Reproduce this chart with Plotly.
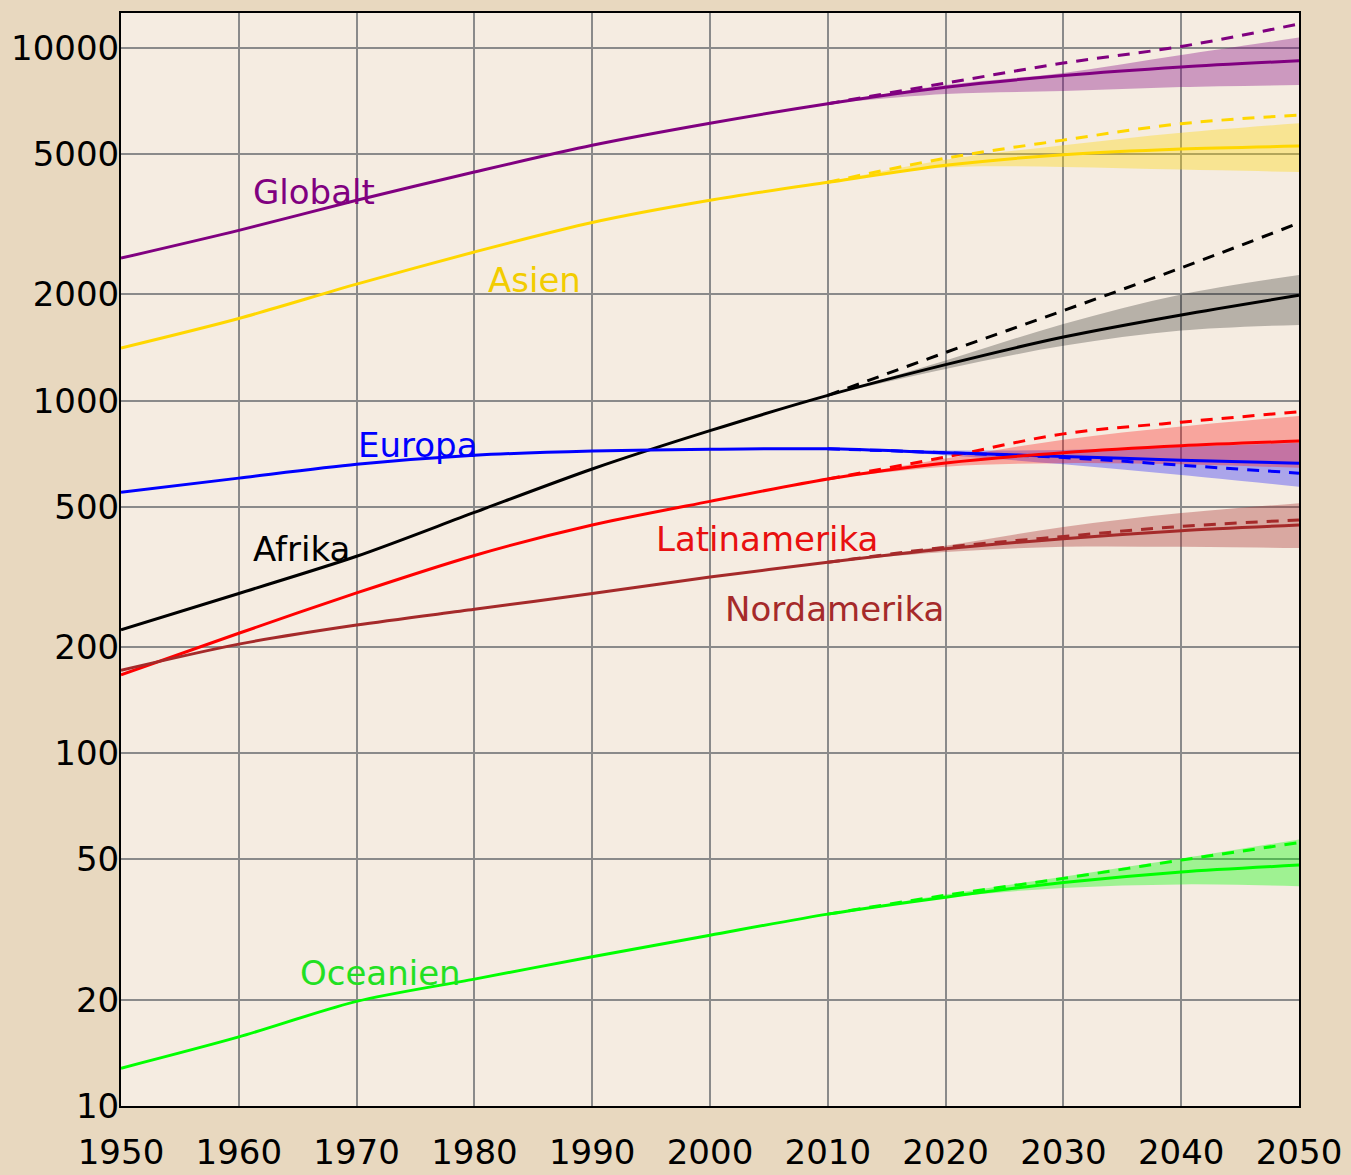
import math
import plotly.graph_objects as go

# ---------------- data (millions) ----------------
years = [1950, 1960, 1970, 1980, 1990, 2000, 2010, 2020, 2030, 2040, 2050]
proj_years = [2010, 2020, 2030, 2040, 2050]

global_med = [2536, 3040, 3700, 4450, 5300, 6120, 6950, 7740, 8350, 8830, 9200]
asia_med = [1410, 1710, 2140, 2640, 3200, 3700, 4160, 4650, 4980, 5170, 5270]
africa_med = [224, 284, 362, 482, 640, 822, 1035, 1265, 1515, 1750, 1990]
europe_med = [550, 603, 660, 700, 720, 728, 730, 712, 695, 678, 665]
latam_med = [167, 219, 285, 364, 444, 518, 600, 666, 712, 745, 768]
northam_med = [172, 204, 231, 256, 284, 316, 348, 380, 406, 428, 444]
oceania_med = [12.8, 15.7, 19.8, 22.9, 26.5, 30.5, 35.0, 39.1, 43.0, 46.1, 48.2]

# constant-fertility variant (dashed)
global_const = [6950, 7950, 9060, 10100, 11700]
asia_const = [4160, 4870, 5480, 6100, 6450]
africa_const = [1035, 1370, 1800, 2380, 3190]
europe_const = [730, 712, 690, 656, 623]
latam_const = [600, 692, 805, 869, 930]
northam_const = [348, 384, 412, 440, 459]
oceania_const = [35.0, 39.6, 44.2, 49.8, 55.8]

# low / high variants (shaded band)
global_low = [6950, 7400, 7550, 7750, 7850]
global_high = [6950, 7850, 8500, 9550, 10700]
asia_low = [4160, 4580, 4600, 4520, 4450]
asia_high = [4160, 4820, 5300, 5750, 6120]
africa_low = [1035, 1230, 1430, 1580, 1640]
africa_high = [1035, 1300, 1650, 2000, 2270]
europe_low = [730, 700, 660, 615, 570]
europe_high = [730, 722, 725, 740, 760]
latam_low = [600, 650, 665, 660, 645]
latam_high = [600, 685, 775, 845, 905]
northam_low = [348, 372, 385, 385, 382]
northam_high = [348, 388, 438, 480, 512]
oceania_low = [35.0, 39.0, 41.5, 42.5, 42.0]
oceania_high = [35.0, 39.8, 44.7, 50.3, 57.0]

region_names = ["Globalt", "Asien", "Afrika", "Europa", "Latinamerika", "Nordamerika", "Oceanien"]
label_years = [1966.4, 1985.1, 1965.3, 1975.2, 2004.8, 2010.6, 1972.0]
label_values = [3900, 2200, 380, 748, 405, 256, 23.8]

y_tick_vals = [10, 20, 50, 100, 200, 500, 1000, 2000, 5000, 10000]
y_tick_text = ["10", "20", "50", "100", "200", "500", "1000", "2000", "5000", "10000"]
x_tick_vals = [1950, 1960, 1970, 1980, 1990, 2000, 2010, 2020, 2030, 2040, 2050]

# ---------------- styling ----------------
colors = ["#800080", "#FFD700", "#000000", "#0000FF", "#FF0000", "#A52A2A", "#00FF00"]
band_rgba = [
    "rgba(128,0,128,0.35)",
    "rgba(255,215,0,0.35)",
    "rgba(0,0,0,0.25)",
    "rgba(0,0,255,0.30)",
    "rgba(255,0,0,0.30)",
    "rgba(165,42,42,0.35)",
    "rgba(0,255,0,0.35)",
]
label_colors = ["#800080", "#F2CC00", "#000000", "#0000FF", "#E81010", "#A52A2A", "#22E022"]

meds = [global_med, asia_med, africa_med, europe_med, latam_med, northam_med, oceania_med]
consts = [global_const, asia_const, africa_const, europe_const, latam_const, northam_const, oceania_const]
lows = [global_low, asia_low, africa_low, europe_low, latam_low, northam_low, oceania_low]
highs = [global_high, asia_high, africa_high, europe_high, latam_high, northam_high, oceania_high]

fig = go.Figure()

# bands
for i in range(len(region_names)):
    fig.add_trace(go.Scatter(x=proj_years, y=lows[i], mode="lines", line=dict(width=0, shape="spline"),
                             hoverinfo="skip", showlegend=False))
    fig.add_trace(go.Scatter(x=proj_years, y=highs[i], mode="lines", line=dict(width=0, shape="spline"),
                             fill="tonexty", fillcolor=band_rgba[i], hoverinfo="skip", showlegend=False))

# dashed
for i in range(len(region_names)):
    fig.add_trace(go.Scatter(x=proj_years, y=consts[i], mode="lines",
                             line=dict(color=colors[i], width=3, dash="12px,9px", shape="spline"),
                             showlegend=False, name=region_names[i] + " (konstant)"))

# solid
for i in range(len(region_names)):
    fig.add_trace(go.Scatter(x=years, y=meds[i], mode="lines",
                             line=dict(color=colors[i], width=3, shape="spline", smoothing=0.8),
                             showlegend=False, name=region_names[i]))

for i in range(len(region_names)):
    fig.add_annotation(x=label_years[i], y=math.log10(label_values[i]),
                       text=region_names[i], showarrow=False,
                       font=dict(family="DejaVu Sans", size=34, color=label_colors[i]),
                       xanchor="center", yanchor="middle")

fig.update_layout(
    width=1351, height=1175,
    margin=dict(l=121, r=52, t=13, b=69),
    paper_bgcolor="#e8d8bf",
    plot_bgcolor="#f5ece1",
    font=dict(family="DejaVu Sans", size=34, color="#000000"),
    showlegend=False,
)
fig.update_xaxes(
    range=[1950, 2050], tickvals=x_tick_vals, automargin=False,
    showgrid=True, gridcolor="#8a8a8a", gridwidth=1.5,
    showline=True, linecolor="#000000", linewidth=2, mirror=True,
    ticks="", ticklabelstandoff=15, zeroline=False,
    tickfont=dict(family="DejaVu Sans", size=34, color="#000000"),
)
fig.update_yaxes(
    type="log", range=[1, 4.0992], tickvals=y_tick_vals, ticktext=y_tick_text, automargin=False,
    showgrid=True, gridcolor="#8a8a8a", gridwidth=1.5,
    showline=True, linecolor="#000000", linewidth=2, mirror=True,
    ticks="", ticklabelstandoff=-7, zeroline=False,
    tickfont=dict(family="DejaVu Sans", size=34, color="#000000"),
)

fig.write_html("out.html", config={"displayModeBar": False},
               post_script="document.body.style.margin='0';document.body.style.overflow='hidden';")
